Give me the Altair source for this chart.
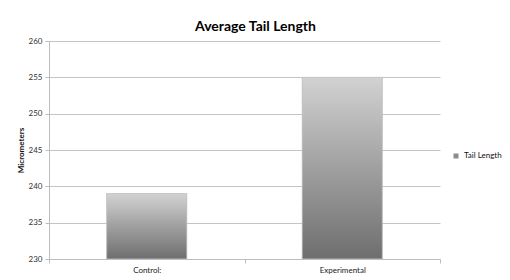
import altair as alt
import pandas as pd

categories = ["Control:", "Experimental"]
values = [239, 255]
series = ["Tail Length", "Tail Length"]
baseline = 230

df = pd.DataFrame({"group": categories, "value": values, "series": series})

gradient = alt.Gradient(
    gradient="linear",
    stops=[alt.GradientStop(color="#d2d2d2", offset=0),
           alt.GradientStop(color="#6e6e6e", offset=1)],
    x1=0, x2=0, y1=0, y2=1,
)

x = alt.X("group:N", sort=categories, title=None,
          scale=alt.Scale(paddingInner=0, paddingOuter=0),
          axis=alt.Axis(labelAngle=0, labelFontSize=8, labelColor="#222",
                        labelFont="Lato", tickBand="extent", tickSize=4,
                        tickColor="#bdbdbd", domainColor="#bdbdbd",
                        labelPadding=3, grid=False))
y = alt.Y("value:Q", title="Micrometers",
          scale=alt.Scale(domain=[230, 260], zero=False, nice=False),
          axis=alt.Axis(values=[230, 235, 240, 245, 250, 255, 260],
                        labelFontSize=8, labelColor="#333", labelFont="Lato",
                        tickSize=4, tickColor="#bdbdbd", domainColor="#bdbdbd",
                        gridColor="#c4c4c4", titleFontSize=8, titleFont="Lato",
                        titleFontWeight="bold", titleColor="#111",
                        titlePadding=3, labelPadding=3))

base = alt.Chart(df)
bw = alt.RelativeBandSize(0.41)

legend_layer = base.mark_bar(width=bw).encode(
    x=x, y=y, y2=alt.datum(baseline),
    color=alt.Color("series:N", title=None,
                    scale=alt.Scale(range=["#8c8c8c"]),
                    legend=alt.Legend(orient="none", legendX=403, legendY=111,
                                      symbolType="square", symbolSize=25,
                                      labelFontSize=8, labelFont="Lato",
                                      labelColor="#111", symbolStrokeWidth=0)),
)

grad_layer = base.mark_bar(width=bw, fill=gradient, stroke="#c8c8c8",
                           strokeWidth=0.8).encode(
    x=x, y=y, y2=alt.datum(baseline),
)

chart = alt.layer(legend_layer, grad_layer).properties(
    width=391, height=218,
    title=alt.TitleParams("Average Tail Length", fontSize=14, font="Lato",
                          fontWeight="bold", color="#000", dx=11, offset=3),
    autosize=alt.AutoSizeParams(type="none"),
    padding={"left": 49, "top": 41, "right": 70, "bottom": 21},
).configure_view(stroke=None)

chart.save("out.html", embed_options={"renderer": "svg", "actions": False})
